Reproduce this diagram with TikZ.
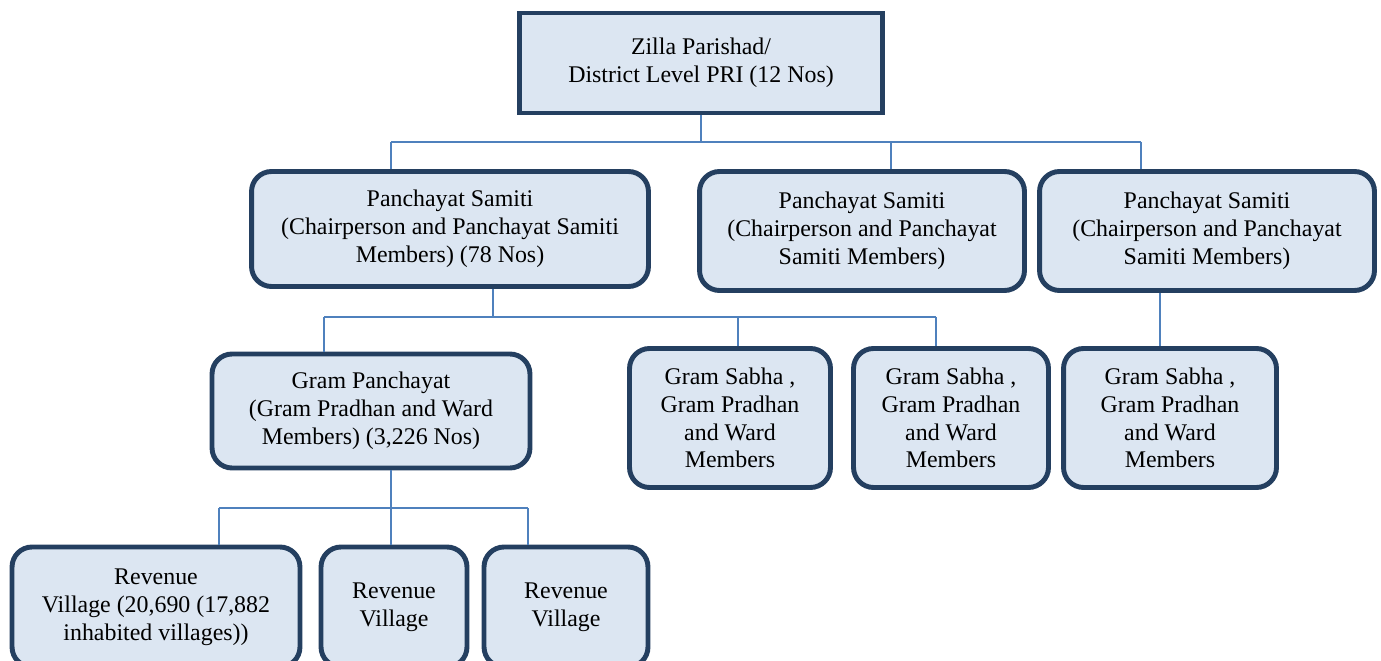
\documentclass[tikz,border=0pt]{standalone}
\usepackage{fontspec}
\setmainfont{Liberation Serif}
\usepackage{tikz}

\definecolor{boxfill}{HTML}{DCE6F2}
\definecolor{boxline}{HTML}{243F60}
\definecolor{linkblue}{HTML}{4F81BD}

\begin{document}
\begin{tikzpicture}[
    x=0.02cm, y=-0.02cm,
    every node/.style = {
      shape=rectangle,
      align=center,
      fill=boxfill,
      draw=boxline,
      line width=2.8pt,
      inner sep=2pt,
      font=\fontsize{13.6}{15.8}\selectfont
    },
    roundbox/.style = {
      rounded corners=0.4cm
    },
    link/.style = {
      draw=linkblue,
      line width=1.1pt
    }
  ]

    \useasboundingbox (0,0) rectangle (1381,661);

    % Top node
    \node[minimum width=7.26cm, minimum height=2cm] (zilla) at (701,63)
      {Zilla Parishad/\\District Level PRI (12 Nos)};

    % Panchayat Samiti row
    \node[roundbox, minimum width=7.94cm, minimum height=2.3cm] (samiti1) at (450,229)
      {Panchayat Samiti\\ (Chairperson and Panchayat Samiti\\Members) (78 Nos)};
    \node[roundbox, minimum width=6.5cm, minimum height=2.38cm] (samiti2) at (862,231)
      {Panchayat Samiti\\ (Chairperson and Panchayat\\Samiti Members)};
    \node[roundbox, minimum width=6.7cm, minimum height=2.38cm] (samiti3) at (1207,231)
      {Panchayat Samiti\\ (Chairperson and Panchayat\\Samiti Members)};

    % Gram level row
    \node[roundbox, minimum width=6.36cm, minimum height=2.28cm] (gram) at (371,411)
      {Gram Panchayat\\ (Gram Pradhan and Ward\\Members) (3,226 Nos)};
    \node[roundbox, minimum width=4.02cm, minimum height=2.78cm] (sabha1) at (730,418)
      {Gram Sabha ,\\Gram Pradhan\\and Ward\\Members};
    \node[roundbox, minimum width=3.9cm, minimum height=2.78cm] (sabha2) at (951,418)
      {Gram Sabha ,\\Gram Pradhan\\and Ward\\Members};
    \node[roundbox, minimum width=4.26cm, minimum height=2.78cm] (sabha3) at (1170,418)
      {Gram Sabha ,\\Gram Pradhan\\and Ward\\Members};

    % Revenue villages (cut by the lower edge)
    \node[roundbox, minimum width=5.76cm, minimum height=2.4cm] (village1) at (156,607)
      {Revenue\\ Village (20,690 (17,882\\inhabited villages))};
    \node[roundbox, minimum width=2.92cm, minimum height=2.4cm] (village2) at (394,607)
      {Revenue\\Village};
    \node[roundbox, minimum width=3.28cm, minimum height=2.4cm] (village3) at (566,607)
      {Revenue\\Village};

    % Bus points
    \coordinate (zillaL) at (391,142);
    \coordinate (zillaM) at (891,142);
    \coordinate (zillaR) at (1141,142);
    \coordinate (samitiS) at (493,317);
    \coordinate (samitiL) at (324,317);
    \coordinate (samitiM) at (738,317);
    \coordinate (samitiR) at (936,317);
    \coordinate (samitiT) at (1160,317);
    \coordinate (gramS) at (391,508);
    \coordinate (gramL) at (219,508);
    \coordinate (gramR) at (528,508);

    % Connectors
    \draw[link] (zilla.south) -- (zilla.south |- zillaL);
    \draw[link] (zillaL) -- (zillaR);
    \draw[link] (zillaL) -- (zillaL |- samiti1.north);
    \draw[link] (zillaM) -- (zillaM |- samiti2.north);
    \draw[link] (zillaR) -- (zillaR |- samiti3.north);

    \draw[link] (samitiS |- samiti1.south) -- (samitiS);
    \draw[link] (samitiL) -- (samitiR);
    \draw[link] (samitiL) -- (samitiL |- gram.north);
    \draw[link] (samitiM) -- (samitiM |- sabha1.north);
    \draw[link] (samitiR) -- (samitiR |- sabha2.north);
    \draw[link] (samitiT |- samiti3.south) -- (samitiT |- sabha3.north);

    \draw[link] (gramS |- gram.south) -- (gramS |- village2.north);
    \draw[link] (gramL) -- (gramR);
    \draw[link] (gramL) -- (gramL |- village1.north);
    \draw[link] (gramR) -- (gramR |- village3.north);

  \end{tikzpicture}
\end{document}
